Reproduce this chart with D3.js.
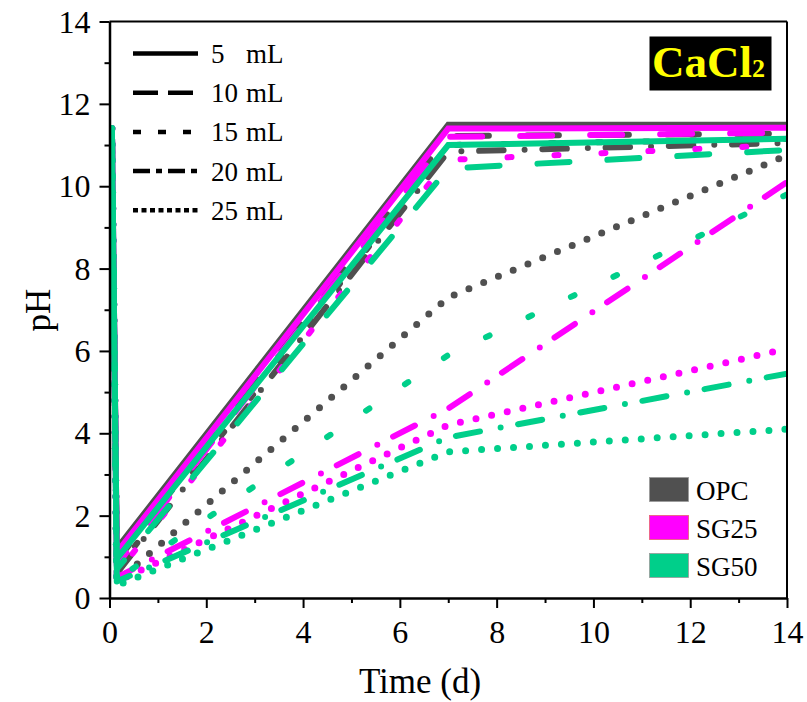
<!DOCTYPE html>
<html lang="en">
<head>
<meta charset="utf-8">
<title>CaCl2 pH</title>
<script src="https://cdn.jsdelivr.net/npm/d3@7"></script>
<style>
  body { margin: 0; background: #fff; }
  svg text { font-family: "Liberation Serif", "Times New Roman", serif; fill: #000; }
</style>
</head>
<body>
<svg id="chart" width="807" height="702"></svg>
<script>
// ---- data ----
var times = [0.05, 0.15, 7, 14];
var volumes = ["5", "10", "15", "20", "25"];
var groups = ["OPC", "SG25", "SG50"];
var groupColours = ["#505050", "#ff00ff", "#00cf8a"];

// one row per volume: 5, 10, 15, 20, 25 mL
var opcPH = [
  [11.4, 1.2, 11.49, 11.49],
  [11.4, 0.9, 11.22, 11.28],
  [11.4, 0.7, 11.0, 11.15],
  [11.4, 0.6, 10.84, 11.05],
  [11.4, 0.4, 7.3, 10.75]
];
var sg25PH = [
  [11.4, 1.1, 11.4, 11.42],
  [11.4, 0.8, 11.2, 11.3],
  [11.4, 0.6, 10.64, 11.0],
  [11.4, 0.5, 4.6, 10.1],
  [11.4, 0.4, 4.2, 6.05]
];
var sg50PH = [
  [11.4, 0.95, 11.0, 11.15],
  [11.4, 0.7, 10.43, 10.88],
  [11.4, 0.45, 5.9, 9.8],
  [11.4, 0.4, 3.9, 5.45],
  [11.4, 0.3, 3.55, 4.1]
];
var allPH = [opcPH, sg25PH, sg50PH];

var xTicks = [0, 2, 4, 6, 8, 10, 12, 14];
var xMinor = [1, 3, 5, 7, 9, 11, 13];
var yTicks = [0, 2, 4, 6, 8, 10, 12, 14];
var yMinor = [1, 3, 5, 7, 9, 11, 13];

// line styles per volume
var plotDash = ["none", "32,38", "4,43", "24.5,21,0,17.75", "0,16"];
var plotWidth = [6, 6, 6, 6, 7];
var legendDash = ["none", "25,10", "8,17", "17,6,6,6", "5,3.5"];

// ---- layout ----
var pL = 109.5, pR = 787, pT = 21.5, pB = 598;

var svg = d3.select("#chart");

var x = d3.scaleLinear().domain([0, 14]).range([pL, pR]);
var y = d3.scaleLinear().domain([0, 14]).range([pB, pT]);

svg.append("defs").append("clipPath")
  .attr("id", "plotClip")
  .append("rect")
  .attr("x", pL).attr("y", pT)
  .attr("width", pR - pL).attr("height", pB - pT);

// lines
var line = d3.line()
  .x(function(d) { return x(d.t); })
  .y(function(d) { return y(d.v); });

var plot = svg.append("g").attr("clip-path", "url(#plotClip)");

allPH.forEach(function(rows, g) {
  rows.forEach(function(vals, k) {
    var pts = vals.map(function(v, i) { return {t: times[i], v: v}; });
    plot.append("path")
      .datum(pts)
      .attr("d", line)
      .attr("fill", "none")
      .attr("stroke", groupColours[g])
      .attr("stroke-width", plotWidth[k])
      .attr("stroke-linecap", k == 0 ? "butt" : "round")
      .attr("stroke-linejoin", k == 0 ? "miter" : "round")
      .attr("stroke-dasharray", plotDash[k]);
  });
});

// frame (top / right)
svg.append("line")
  .attr("x1", pL).attr("x2", pR).attr("y1", pT).attr("y2", pT)
  .attr("stroke", "#000").attr("stroke-width", 2);
svg.append("line")
  .attr("x1", pR).attr("x2", pR).attr("y1", pT).attr("y2", pB)
  .attr("stroke", "#000").attr("stroke-width", 2);

// axes
var xAxis = svg.append("g")
  .attr("transform", "translate(0," + pB + ")")
  .call(d3.axisBottom(x).tickValues(xTicks).tickSize(10).tickSizeOuter(0).tickFormat(d3.format("d")));
xAxis.append("g")
  .call(d3.axisBottom(x).tickValues(xMinor).tickSize(5).tickSizeOuter(0).tickFormat(""))
  .select(".domain").remove();

var yAxis = svg.append("g")
  .attr("transform", "translate(" + pL + ",0)")
  .call(d3.axisLeft(y).tickValues(yTicks).tickSize(10).tickSizeOuter(0).tickFormat(d3.format("d")));
yAxis.append("g")
  .call(d3.axisLeft(y).tickValues(yMinor).tickSize(5).tickSizeOuter(0).tickFormat(""))
  .select(".domain").remove();

svg.selectAll(".domain").attr("stroke", "#000").attr("stroke-width", 2.5);
svg.selectAll(".tick line").attr("stroke", "#000").attr("stroke-width", 2);

xAxis.selectAll(".tick text")
  .attr("y", 45).attr("dy", null)
  .style("font-size", "32px")
  .style("font-family", "Liberation Serif");
yAxis.selectAll(".tick text")
  .attr("x", -19)
  .attr("dy", "0.33em")
  .style("font-size", "32px")
  .style("font-family", "Liberation Serif");

// axis titles
svg.append("text")
  .attr("x", 420).attr("y", 693)
  .attr("text-anchor", "middle")
  .style("font-size", "35px")
  .text("Time (d)");

svg.append("text")
  .attr("transform", "translate(50,310) rotate(-90)")
  .attr("text-anchor", "middle")
  .style("font-size", "35px")
  .text("pH");

// volume legend (top-left)
var volLegend = svg.append("g");
volumes.forEach(function(v, k) {
  var ly = 53.5 + k * 39.2;
  volLegend.append("line")
    .attr("x1", 133).attr("x2", 198)
    .attr("y1", ly).attr("y2", ly)
    .attr("stroke", "#000")
    .attr("stroke-width", 4.5)
    .attr("stroke-dasharray", legendDash[k]);
  volLegend.append("text")
    .attr("x", 211).attr("y", ly + 9.5)
    .style("font-size", "27px")
    .text(v);
  volLegend.append("text")
    .attr("x", 246).attr("y", ly + 9.5)
    .style("font-size", "27px")
    .text("mL");
});

// group legend (bottom-right)
var grpLegend = svg.append("g");
groups.forEach(function(name, g) {
  var gy = 477.5 + g * 38;
  grpLegend.append("rect")
    .attr("x", 649.5).attr("y", gy)
    .attr("width", 39).attr("height", 24)
    .attr("fill", groupColours[g])
    .attr("stroke", g == 1 ? "#e86070" : "#9a9a9a")
    .attr("stroke-width", 0.8);
  grpLegend.append("text")
    .attr("x", 696).attr("y", gy + 22.5)
    .style("font-size", "27px")
    .text(name);
});

// CaCl2 badge
svg.append("rect")
  .attr("x", 649.5).attr("y", 36.5)
  .attr("width", 122).attr("height", 54)
  .attr("fill", "#000");
var badge = svg.append("text")
  .attr("x", 652).attr("y", 76.5)
  .style("font-size", "45px")
  .style("font-weight", "bold")
  .style("fill", "#ffff00");
badge.append("tspan").style("fill", "#ffff00").text("CaCl");
badge.append("tspan").style("fill", "#ffff00").style("font-size", "26px").text("2");
</script>
</body>
</html>
